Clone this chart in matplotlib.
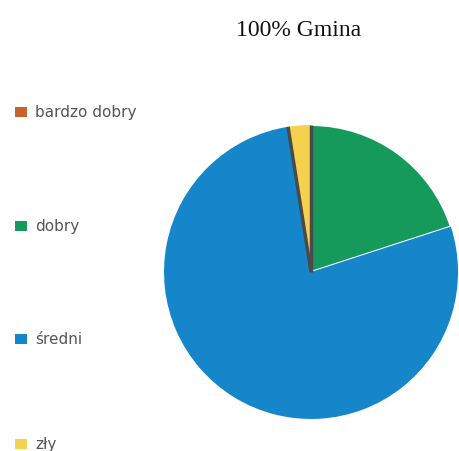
import matplotlib
matplotlib.use("Agg")
import matplotlib.pyplot as plt
import numpy as np
from matplotlib.patches import Rectangle

labels = ["bardzo dobry", "dobry", "średni", "zły"]
shares = [0.0, 20.0, 77.5, 2.5]
colors = ["#c8612a", "#159a5c", "#1686cb", "#f4d250"]

fig = plt.figure(figsize=(4.59, 4.52), dpi=100)
fig.patch.set_facecolor("white")

R = 0.98
ax = fig.add_axes([0.3508, 0.0642, 300 / 459, 300 / 452])
wedges, _ = ax.pie(shares, colors=colors, startangle=90, counterclock=False,
                   radius=R, wedgeprops=dict(linewidth=0))
# thin white seam under the green slice
wedges[1].set_edgecolor("white")
wedges[1].set_linewidth(1.5)

# dark side faces along both radial edges of the yellow slice
yw = wedges[3]
for ang in (yw.theta1, yw.theta2):
    t = np.deg2rad(ang)
    ax.plot([0, R * np.cos(t)], [0, R * np.sin(t)], color="#4a4a4a",
            lw=2.5, solid_capstyle="butt")

ax.set_xlim(-1, 1)
ax.set_ylim(-1, 1)
ax.set_aspect("equal")
ax.axis("off")

fig.text(299 / 459, 1 - 30 / 452, "100% Gmina", ha="center", va="center",
         fontsize=17, family="Liberation Serif", color="#111111")

# legend entries spread down the left side
ys = [113, 227, 340, 445]
for lab, col, y in zip(labels, colors, ys):
    yf = 1 - y / 452
    fig.add_artist(Rectangle((15 / 459, yf - 5 / 452), 12 / 459, 10 / 452,
                             transform=fig.transFigure, facecolor=col,
                             edgecolor="none"))
    fig.text(35 / 459, yf, lab, ha="left", va="center", fontsize=11,
             color="#555555", family="DejaVu Sans")

fig.savefig("out.png", dpi=100)
